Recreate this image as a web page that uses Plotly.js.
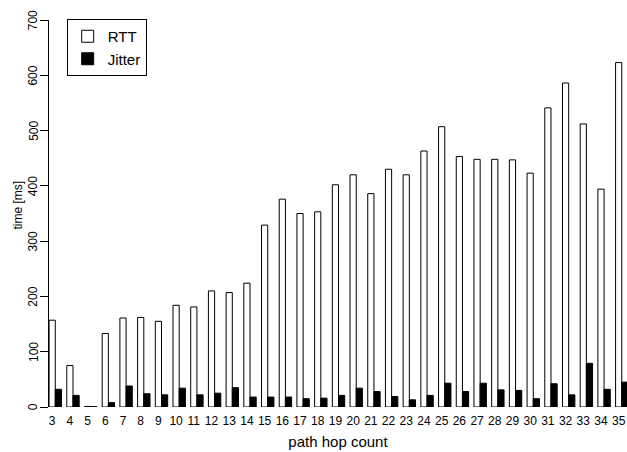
<!DOCTYPE html>
<html>
<head>
<meta charset="utf-8">
<script src="https://cdn.plot.ly/plotly-3.0.1.min.js"></script>
<style>
  html, body { margin: 0; padding: 0; background: #ffffff; }
  #chart { width: 627px; height: 452px; }
</style>
</head>
<body>
<div id="chart"></div>
<script>
// Path hop count categories
const hopCounts = ["3","4","5","6","7","8","9","10","11","12","13","14","15","16","17","18","19",
                   "20","21","22","23","24","25","26","27","28","29","30","31","32","33","34","35"];

// Mean round trip time per hop count [ms]
const rtt = [157, 75, 1, 133, 161, 162, 155, 184, 181, 210, 207, 224, 329, 376, 350, 353, 402,
             420, 386, 430, 420, 463, 507, 453, 448, 448, 447, 423, 541, 586, 512, 394, 623];

// Jitter per hop count [ms]
const jitter = [32, 21, 0.5, 8, 38, 24, 22, 34, 22, 25, 35, 18, 18, 18, 15, 16, 21,
                34, 28, 19, 13, 21, 43, 28, 43, 31, 30, 15, 42, 22, 79, 32, 45];

// Time axis tick values [ms]
const timeTicks = [0, 100, 200, 300, 400, 500, 600, 700];

const font = "Liberation Sans, Arial, Helvetica, sans-serif";

const traces = [
  {
    type: "bar",
    name: "RTT",
    x: hopCounts,
    y: rtt,
    width: 0.35,
    offset: -0.175,
    marker: { color: "#ffffff", line: { color: "#000000", width: 1 } }
  },
  {
    type: "bar",
    name: "Jitter",
    x: hopCounts,
    y: jitter,
    width: 0.35,
    offset: 0.175,
    marker: { color: "#000000", line: { color: "#000000", width: 1 } }
  }
];

// Vertical (bottom-to-top) time tick labels placed on the y scale
const annotations = timeTicks.map(v => ({
  xref: "paper", yref: "y",
  x: -0.0272, y: v,
  xanchor: "center", yanchor: "middle",
  text: String(v), textangle: -90, showarrow: false,
  font: { family: font, size: 12, color: "#000000" }
}));

// Y-axis title
annotations.push({
  xref: "paper", yref: "paper",
  x: -0.0545, y: 0.522,
  xanchor: "center", yanchor: "middle",
  text: "time [ms]", textangle: -90, showarrow: false,
  font: { family: font, size: 12, color: "#000000" }
});

const layout = {
  width: 627,
  height: 452,
  margin: { l: 49, r: 0, t: 20, b: 45, pad: 0 },
  paper_bgcolor: "#ffffff",
  plot_bgcolor: "#ffffff",
  barmode: "overlay",
  font: { family: font, color: "#000000", size: 12 },
  showlegend: true,
  legend: {
    x: 0.0306, y: 1.0026, xanchor: "left", yanchor: "top",
    bordercolor: "#000000", borderwidth: 1, bgcolor: "#ffffff",
    font: { family: font, size: 15, color: "#000000" },
    traceorder: "normal"
  },
  xaxis: {
    type: "category",
    range: [-0.18, 32.47],
    showline: false, showgrid: false, zeroline: false,
    ticks: "", ticklabelstandoff: 5,
    tickfont: { family: font, size: 12 },
    title: { text: "path hop count", font: { family: font, size: 15 }, standoff: 9 }
  },
  yaxis: {
    range: [0, 700],
    tickmode: "array", tickvals: timeTicks,
    showticklabels: false,
    showline: true, linecolor: "#000000", linewidth: 1,
    ticks: "outside", ticklen: 8, tickwidth: 1, tickcolor: "#000000",
    showgrid: false, zeroline: false
  },
  annotations: annotations
};

Plotly.newPlot("chart", traces, layout, { displayModeBar: false, staticPlot: true });
</script>
</body>
</html>
